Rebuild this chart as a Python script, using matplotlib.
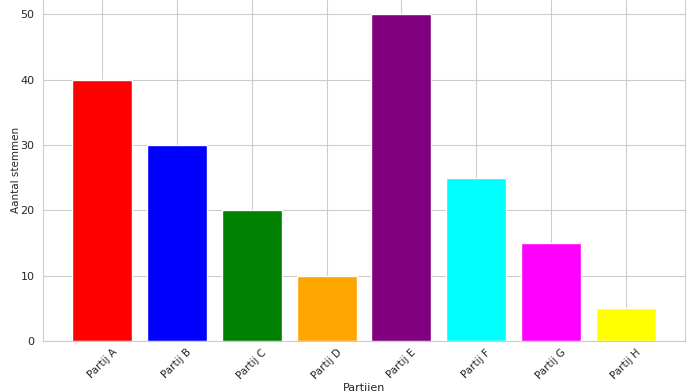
import matplotlib
matplotlib.use("Agg")
import matplotlib.pyplot as plt
import seaborn as sns

partijen = ["Partij A", "Partij B", "Partij C", "Partij D",
            "Partij E", "Partij F", "Partij G", "Partij H"]
stemmen = [40, 30, 20, 10, 50, 25, 15, 5]
kleuren = ["red", "blue", "green", "orange",
           "purple", "cyan", "magenta", "yellow"]

sns.set_style("whitegrid")

fig = plt.figure(figsize=(6.95, 3.91), dpi=100)
ax = fig.add_axes([0.0619, 0.1279, 0.9237, 0.877])

ax.bar(partijen, stemmen, color=kleuren)
ax.set_xlabel("Partijen", fontsize=8, labelpad=1)
ax.set_ylabel("Aantal stemmen", fontsize=7.5, labelpad=0)
ax.tick_params(axis="y", labelsize=8, pad=2.5)
ax.tick_params(axis="x", pad=1, labelsize=7.5)
plt.setp(ax.get_xticklabels(), rotation=45)

fig.savefig("out.png", dpi=100)
